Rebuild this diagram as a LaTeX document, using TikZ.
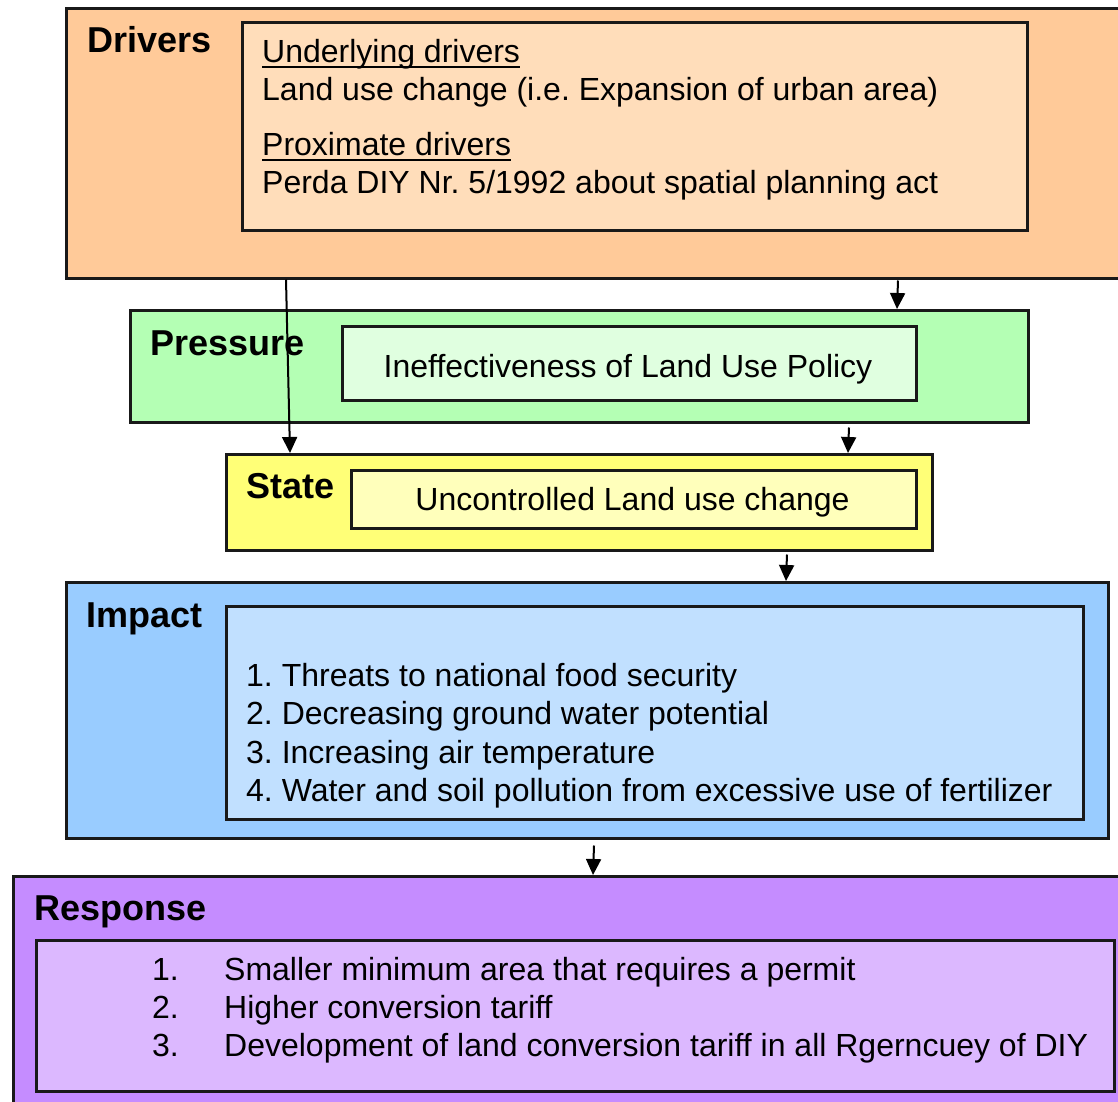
\documentclass[tikz,border=0pt]{standalone}
\usepackage{fontspec}
\setmainfont{Liberation Sans}
\usetikzlibrary{arrows.meta,calc}
\definecolor{drvout}{HTML}{FFCA99}
\definecolor{drvin}{HTML}{FFDDBA}
\definecolor{prsout}{HTML}{B4FFB4}
\definecolor{prsin}{HTML}{E0FFE0}
\definecolor{staout}{HTML}{FFFF77}
\definecolor{stain}{HTML}{FFFFBB}
\definecolor{impout}{HTML}{99CCFF}
\definecolor{impin}{HTML}{C1E0FF}
\definecolor{rspout}{HTML}{C58CFF}
\definecolor{rspin}{HTML}{DCB8FF}
\frenchspacing
\begin{document}
\begin{tikzpicture}[x=1pt,y=-1pt,
  box/.style={draw=black!90, line width=2.5pt, rectangle, anchor=north west, inner sep=0pt},
  txt/.style={inner sep=0pt, anchor=base west, font=\fontsize{32}{38}\selectfont},
  lab/.style={inner sep=0pt, anchor=base west, font=\fontsize{36}{40}\selectfont\bfseries},
  flow/.style={line width=2pt, -{Triangle[length=16pt,width=15pt]}}]
\clip (0,0) rectangle (1118,1101);
\fill[white] (0,0) rectangle (1118,1101);

% Drivers
\node[box, fill=drvout, minimum width=1075pt, minimum height=270pt] (drv) at (65,7) {};
\node[box, fill=drvin, minimum width=785pt, minimum height=208pt] (drvbox) at (241,21) {};
\node[lab] (drvlab) at (87,52) {Drivers};
\node[txt] (u1) at (262,62) {Underlying drivers};
\draw[line width=2pt] ([yshift=-5pt]u1.base west) -- ([yshift=-5pt]u1.base east);
\node[txt] (u2) at (262,100) {Land use change (i.e. Expansion of urban area)};
\node[txt] (p1) at (262,155) {Proximate drivers};
\draw[line width=2pt] ([yshift=-5pt]p1.base west) -- ([yshift=-5pt]p1.base east);
\node[txt] (p2) at (262,193) {Perda DIY Nr. 5/1992 about spatial planning act};

% Pressure
\node[box, fill=prsout, minimum width=898pt, minimum height=112pt] (prs) at (129,309) {};
\node[box, fill=prsin, minimum width=574pt, minimum height=74pt] (prsbox) at (341,325) {};
\node[lab] (prslab) at (150,355) {Pressure};
\node[txt, anchor=base] (prstxt) at (628,377) {Ineffectiveness of Land Use Policy};

% State
\node[box, fill=staout, minimum width=706pt, minimum height=96pt] (sta) at (225,453) {};
\node[box, fill=stain, minimum width=565pt, minimum height=58pt] (stabox) at (350,469) {};
\node[lab] (stalab) at (246,498) {State};
\node[txt, anchor=base] (statxt) at (632.5,510) {Uncontrolled Land use change};

% Impact
\node[box, fill=impout, minimum width=1042pt, minimum height=256pt] (imp) at (65,581) {};
\node[box, fill=impin, minimum width=857pt, minimum height=213pt] (impbox) at (225,605) {};
\node[lab] (implab) at (86,627) {Impact};
\node[txt] (i1) at (246,686) {1. Threats to national food security};
\node[txt] (i2) at (246,724.5) {2. Decreasing ground water potential};
\node[txt] (i3) at (246,763) {3. Increasing air temperature};
\node[txt] (i4) at (246,801.5) {4. Water and soil pollution from excessive use of fertilizer};

% Response
\node[box, fill=rspout, minimum width=1118pt, minimum height=240pt] (rsp) at (12,875) {};
\node[box, fill=rspin, minimum width=1078pt, minimum height=151pt] (rspbox) at (35,939) {};
\node[lab] (rsplab) at (34,920) {Response};
\node[txt] (rn1) at (152,980) {1.};
\node[txt] (r1) at (224,980) {Smaller minimum area that requires a permit};
\node[txt] (rn2) at (152,1018) {2.};
\node[txt] (r2) at (224,1018) {Higher conversion tariff};
\node[txt] (rn3) at (152,1056) {3.};
\node[txt] (r3) at (224,1056) {Development of land conversion tariff in all Rgerncuey of DIY};

% Flow between the stages
\draw[flow] ($(drv.south west)+(833,1)$) -- ($(prs.north west)+(768,0)$);
\draw[flow] ($(drv.south west)+(221,0)$) -- ($(sta.north west)+(65,0)$);
\draw[flow] ($(prs.south west)+(720,4)$) -- ($(sta.north west)+(623,0)$);
\draw[flow] ($(sta.south west)+(562,3)$) -- ($(imp.north west)+(721,0)$);
\draw[flow] ($(imp.south west)+(529,6)$) -- ($(rsp.north west)+(581,0)$);
\end{tikzpicture}
\end{document}
